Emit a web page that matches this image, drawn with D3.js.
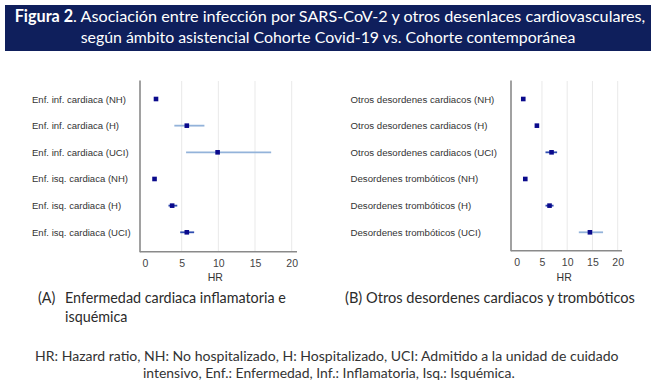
<!DOCTYPE html>
<html>
<head>
<meta charset="utf-8">
<script src="https://cdn.jsdelivr.net/npm/d3@7"></script>
<style>
  body { margin: 0; background: #fff; }
  svg { display: block; }
  .lbl { font-family: "Liberation Sans", Arial, sans-serif; fill: #333; }
  .txt { font-family: Lato, "Open Sans", sans-serif; }
</style>
</head>
<body>
<svg id="chart" width="656" height="387"></svg>
<script>
// Panel A: inflammatory and ischemic heart disease
var labelsA = ["Enf. inf. cardiaca (NH)", "Enf. inf. cardiaca (H)", "Enf. inf. cardiaca (UCI)",
               "Enf. isq. cardiaca (NH)", "Enf. isq. cardiaca (H)", "Enf. isq. cardiaca (UCI)"];
var hrA   = [1.5, 5.7, 9.9, 1.3, 3.7, 5.7];
var lowA  = [1.3, 4.0, 5.6, 1.1, 3.2, 4.8];
var highA = [1.7, 8.1, 17.2, 1.5, 4.4, 6.7];
var toneA = ["dark", "light", "light", "dark", "dark", "dark"];

// Panel B: other cardiac and thrombotic disorders
var labelsB = ["Otros desordenes cardiacos (NH)", "Otros desordenes cardiacos (H)", "Otros desordenes cardiacos (UCI)",
               "Desordenes trombóticos (NH)", "Desordenes trombóticos (H)", "Desordenes trombóticos (UCI)"];
var hrB   = [1.3, 4.0, 6.9, 1.7, 6.5, 14.5];
var lowB  = [1.1, 3.7, 5.7, 1.5, 5.7, 12.3];
var highB = [1.5, 4.3, 8.0, 1.9, 7.3, 17.1];
var toneB = ["dark", "dark", "dark", "dark", "dark", "light"];

var xTicks = [0, 5, 10, 15, 20];

var svg = d3.select("#chart");

// scale a text's font size so it spans the wanted width, returns the new size
function fit(sel, width) {
  var fs = parseFloat(sel.attr("font-size"));
  var w = sel.node().getComputedTextLength();
  var nfs = +(fs * width / w).toFixed(2);
  sel.attr("font-size", nfs);
  return nfs;
}

// header band
svg.append("rect").attr("x", 5).attr("y", 5).attr("width", 646).attr("height", 46)
  .attr("fill", "#0f1f5c");
var h1 = svg.append("text").attr("class", "txt").attr("x", 330).attr("y", 22)
  .attr("text-anchor", "middle").attr("font-size", 14).attr("fill", "#fff");
h1.append("tspan").attr("font-weight", "bold").text("Figura 2");
h1.append("tspan").text(". Asociación entre infección por SARS-CoV-2 y otros desenlaces cardiovasculares,");
fit(h1, 631);
fit(svg.append("text").attr("class", "txt").attr("x", 328).attr("y", 43)
  .attr("text-anchor", "middle").attr("font-size", 14).attr("fill", "#fff")
  .text("según ámbito asistencial Cohorte Covid-19 vs. Cohorte contemporánea"), 495);

function drawPanel(cfg) {
  var x = d3.scaleLinear().domain([0, 20]).range([cfg.x0, cfg.x1]);
  var y = d3.scalePoint().domain(cfg.labels).range([99, 232.3]);
  var g = svg.append("g");

  // grid
  g.selectAll(".grid").data(xTicks.slice(1)).enter().append("line")
    .attr("x1", function(d) { return x(d); }).attr("x2", function(d) { return x(d); })
    .attr("y1", 81).attr("y2", cfg.yAxis)
    .attr("stroke", "#e9e9e9").attr("stroke-width", 1);

  // row labels, sized so the first one matches the reference width
  var rows = g.selectAll(".lbl").data(cfg.labels).enter().append("text")
    .attr("class", "lbl").attr("x", cfg.labelX)
    .attr("y", function(d) { return y(d) + 3.5; })
    .attr("font-size", 9.5).attr("fill", "#3a3a3a").text(function(d) { return d; });
  var fs = fit(d3.select(rows.nodes()[0]), cfg.labelW);
  rows.attr("font-size", fs);

  // x axis
  var axis = g.append("g").attr("transform", "translate(0," + cfg.yAxis + ")")
    .call(d3.axisBottom(x).tickValues(xTicks).tickSize(0).tickPadding(8));
  axis.select(".domain").remove();
  axis.selectAll("text").attr("font-family", "Liberation Sans, Arial, sans-serif")
    .attr("font-size", 10.5).attr("fill", "#444");

  g.append("line").attr("x1", cfg.axisX).attr("x2", cfg.axisX)
    .attr("y1", 80.5).attr("y2", cfg.yAxis + 0.5)
    .attr("stroke", "#8a8a8a").attr("stroke-width", 1.6);
  g.append("line").attr("x1", cfg.axisX).attr("x2", cfg.axisEnd)
    .attr("y1", cfg.yAxis).attr("y2", cfg.yAxis)
    .attr("stroke", "#8a8a8a").attr("stroke-width", 1.6);

  g.append("text").attr("class", "lbl").attr("x", (cfg.x0 + cfg.x1) / 2 - 3).attr("y", 281)
    .attr("text-anchor", "middle").attr("font-size", 10.5).attr("fill", "#444").text("HR");

  // confidence intervals
  g.selectAll(".ci").data(cfg.labels).enter().append("line")
    .attr("x1", function(d, i) { return x(cfg.low[i]); })
    .attr("x2", function(d, i) { return x(cfg.high[i]); })
    .attr("y1", function(d) { return y(d); }).attr("y2", function(d) { return y(d); })
    .attr("stroke", function(d, i) { return cfg.tone[i] === "light" ? "#93b3da" : "#2f4db0"; })
    .attr("stroke-width", 1.8);

  // hazard ratio points
  g.selectAll(".pt").data(cfg.labels).enter().append("rect")
    .attr("x", function(d, i) { return x(cfg.hr[i]) - 2.3; })
    .attr("y", function(d) { return y(d) - 2.3; })
    .attr("width", 4.6).attr("height", 4.6)
    .attr("fill", "#0a0a8c");
}

drawPanel({ labels: labelsA, hr: hrA, low: lowA, high: highA, tone: toneA,
  x0: 145, x1: 291.7, axisX: 140, axisEnd: 297, yAxis: 251.7, labelX: 32, labelW: 94 });
drawPanel({ labels: labelsB, hr: hrB, low: lowB, high: highB, tone: toneB,
  x0: 516.7, x1: 617.7, axisX: 511, axisEnd: 622, yAxis: 250.7, labelX: 350.5, labelW: 144 });

// panel captions
var capA = svg.append("text").attr("class", "txt").attr("x", 65).attr("y", 303)
  .attr("font-size", 12.5).attr("fill", "#2b2b2b").text("Enfermedad cardiaca inflamatoria e");
var capFs = fit(capA, 221);
svg.append("text").attr("class", "txt").attr("x", 38).attr("y", 303)
  .attr("font-size", capFs).attr("fill", "#2b2b2b").text("(A)");
svg.append("text").attr("class", "txt").attr("x", 65).attr("y", 322)
  .attr("font-size", capFs).attr("fill", "#2b2b2b").text("isquémica");
fit(svg.append("text").attr("class", "txt").attr("x", 345).attr("y", 303)
  .attr("font-size", 12.5).attr("fill", "#2b2b2b").text("(B) Otros desordenes cardiacos y trombóticos"), 290);

// footnote
fit(svg.append("text").attr("class", "txt").attr("x", 35).attr("y", 361)
  .attr("font-size", 12).attr("fill", "#333")
  .text("HR: Hazard ratio, NH: No hospitalizado, H: Hospitalizado, UCI: Admitido a la unidad de cuidado"), 584);
fit(svg.append("text").attr("class", "txt").attr("x", 143).attr("y", 378)
  .attr("font-size", 12).attr("fill", "#333")
  .text("intensivo, Enf.: Enfermedad, Inf.: Inflamatoria, Isq.: Isquémica."), 372);
</script>
</body>
</html>
